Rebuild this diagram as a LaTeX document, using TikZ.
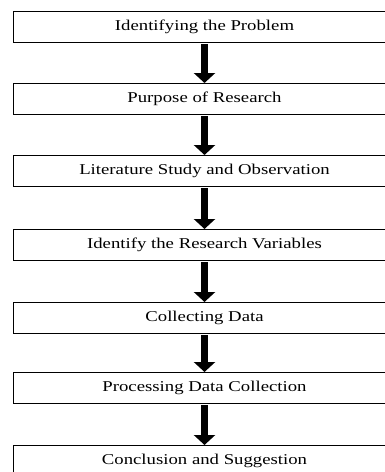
\documentclass[tikz,border=0pt]{standalone}
\usepackage{fontspec}
\setmainfont{Liberation Serif}
\newfontfamily\stagefont[FakeStretch=1.25]{Liberation Serif}
\usetikzlibrary{arrows.meta}

\begin{document}
\begin{tikzpicture}
	[line cap=butt,line join=miter,x=1pt,y=-1pt,
	stage/.style={draw,line width=1pt,anchor=north west,minimum width=382pt,minimum height=31pt,inner sep=0pt,font=\stagefont\fontsize{15}{18}\selectfont},
	flowarrow/.style={line width=6.5pt,-{Triangle[width=21pt,length=10pt]},shorten <=1pt}]
	\useasboundingbox (0,0) rectangle (385,472);
	\clip (0,0) rectangle (385,472);
	\node[stage] (problem) at (13,11) {Identifying the Problem};
	\node[stage] (purpose) at (13,83) {Purpose of Research};
	\node[stage] (literature) at (13,155) {Literature Study and Observation};
	\node[stage] (variables) at (13,229) {Identify the Research Variables};
	\node[stage] (collect) at (13,302) {Collecting Data};
	\node[stage] (process) at (13,372) {Processing Data Collection};
	\node[stage] (conclusion) at (13,445) {Conclusion and Suggestion};
	\draw[flowarrow] (problem) -- (purpose);
	\draw[flowarrow] (purpose) -- (literature);
	\draw[flowarrow] (literature) -- (variables);
	\draw[flowarrow] (variables) -- (collect);
	\draw[flowarrow] (collect) -- (process);
	\draw[flowarrow] (process) -- (conclusion);
\end{tikzpicture}
\end{document}
